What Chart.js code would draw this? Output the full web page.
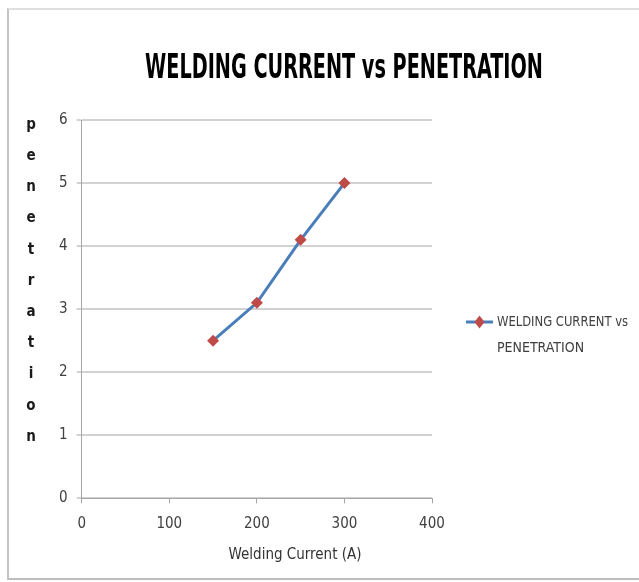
<!DOCTYPE html>
<html>
<head>
<meta charset="utf-8">
<script src="https://cdn.jsdelivr.net/npm/chart.js@4.4.1/dist/chart.umd.min.js"></script>
<style>
  body { margin: 0; background: #fff; overflow: hidden; }
  #wrap { position: relative; width: 639px; height: 582px; overflow: hidden; }
  #chart { position: absolute; left: 0; top: 0; }
  #frame {
    position: absolute; left: 7px; top: 8px; width: 700px; height: 568px;
    border-left: 2px solid #c4c4c4; border-top: 2px solid #e0e0e0; border-bottom: 2px solid #bdbdbd;
  }
  #title {
    position: absolute; left: 44px; width: 600px; top: 46px; text-align: center;
    font-family: "Liberation Sans Narrow", "DejaVu Sans Condensed", sans-serif;
    font-weight: bold; font-size: 31px; line-height: 40px; color: #000; white-space: nowrap;
    transform-origin: 300px 20px; transform: scale(0.69, 1.1);
  }
</style>
</head>
<body>
<div id="wrap">
  <canvas id="chart" width="639" height="582"></canvas>
  <div id="frame"></div>
  <div id="title"></div>
</div>
<script>
const chartTitle = 'WELDING CURRENT vs PENETRATION';
const seriesLabel = 'WELDING CURRENT vs PENETRATION';
const xTitle = 'Welding Current (A)';
const yTitle = 'penetration';

const currents = [150, 200, 250, 300];
const penetration = [2.5, 3.1, 4.1, 5.0];

const xMin = 0, xMax = 400, xStep = 100;
const yMin = 0, yMax = 6, yStep = 1;

const FONT = '"Liberation Sans Narrow", "DejaVu Sans Condensed", sans-serif';
const LINE_BLUE = '#4a7ebb';
const MARKER_RED = '#be4b48';
const AXIS_GREY = '#a6a6a6';

document.getElementById('title').textContent = chartTitle;

// y title is stacked letters, x title sits off-centre and is cut at the bottom
const titlesPlugin = {
  id: 'titles',
  afterDraw(chart) {
    const ctx = chart.ctx;
    ctx.save();
    ctx.textAlign = 'center';
    ctx.font = 'bold 15px ' + FONT;
    ctx.fillStyle = '#1a1a1a';
    ctx.textBaseline = 'middle';
    yTitle.split('').forEach((ch, i) => {
      ctx.fillText(ch, 31, 125 + i * 31.2);
    });

    ctx.beginPath();
    ctx.rect(0, 530, 639, 32);
    ctx.clip();
    ctx.font = '15px ' + FONT;
    ctx.fillStyle = '#333';
    ctx.textBaseline = 'alphabetic';
    ctx.fillText(xTitle, 295, 559, 134);
    ctx.restore();
  }
};

// legend on the right with wrapped text
const legendPlugin = {
  id: 'sideLegend',
  afterDraw(chart) {
    const ctx = chart.ctx;
    const ds = chart.data.datasets[0];
    const y0 = 322;
    ctx.save();
    ctx.strokeStyle = ds.borderColor;
    ctx.lineWidth = 3;
    ctx.beginPath();
    ctx.moveTo(466, y0);
    ctx.lineTo(493, y0);
    ctx.stroke();
    ctx.fillStyle = ds.pointBackgroundColor;
    ctx.beginPath();
    ctx.moveTo(479.5, y0 - 6.5); ctx.lineTo(484.5, y0); ctx.lineTo(479.5, y0 + 6.5); ctx.lineTo(474.5, y0);
    ctx.closePath();
    ctx.fill();

    ctx.font = '14px ' + FONT;
    ctx.fillStyle = '#404040';
    ctx.textAlign = 'left';
    ctx.textBaseline = 'middle';
    const words = ds.label.split(' ');
    const lines = [];
    let cur = '';
    words.forEach(w => {
      const test = cur ? cur + ' ' + w : w;
      if (ctx.measureText(test).width > 146 && cur) { lines.push(cur); cur = w; }
      else cur = test;
    });
    if (cur) lines.push(cur);
    lines.forEach((l, i) => ctx.fillText(l, 497, y0 + i * 26, 131));
    ctx.restore();
  }
};

new Chart(document.getElementById('chart'), {
  type: 'line',
  data: {
    datasets: [{
      label: seriesLabel,
      data: currents.map((c, i) => ({x: c, y: penetration[i]})),
      borderColor: LINE_BLUE,
      borderWidth: 3,
      backgroundColor: MARKER_RED,
      pointStyle: 'rectRot',
      pointRadius: 6,
      pointBorderWidth: 0,
      pointBorderColor: MARKER_RED,
      pointBackgroundColor: MARKER_RED,
      tension: 0,
      fill: false
    }]
  },
  options: {
    responsive: false,
    animation: false,
    layout: { padding: { left: 50, right: 207, top: 120, bottom: 0 } },
    plugins: {
      legend: { display: false },
      tooltip: { enabled: false },
      title: { display: false }
    },
    scales: {
      x: {
        type: 'linear',
        min: xMin, max: xMax,
        afterFit(scale) { scale.height = 83.7; },
        ticks: {
          stepSize: xStep,
          color: '#404040',
          padding: 12,
          font: { family: FONT, size: 15 }
        },
        grid: { drawOnChartArea: false, drawTicks: true, tickLength: 5, tickColor: AXIS_GREY, tickWidth: 1 },
        border: { color: AXIS_GREY, width: 1 }
      },
      y: {
        min: yMin, max: yMax,
        afterFit(scale) { scale.width = 31.7; },
        ticks: {
          stepSize: yStep,
          color: '#404040',
          padding: 9,
          font: { family: FONT, size: 15 }
        },
        grid: { color: '#d2d2d2', lineWidth: 2, drawTicks: true, tickLength: 5, tickColor: AXIS_GREY, tickWidth: 1 },
        border: { color: AXIS_GREY, width: 1 }
      }
    }
  },
  plugins: [titlesPlugin, legendPlugin]
});
</script>
</body>
</html>
